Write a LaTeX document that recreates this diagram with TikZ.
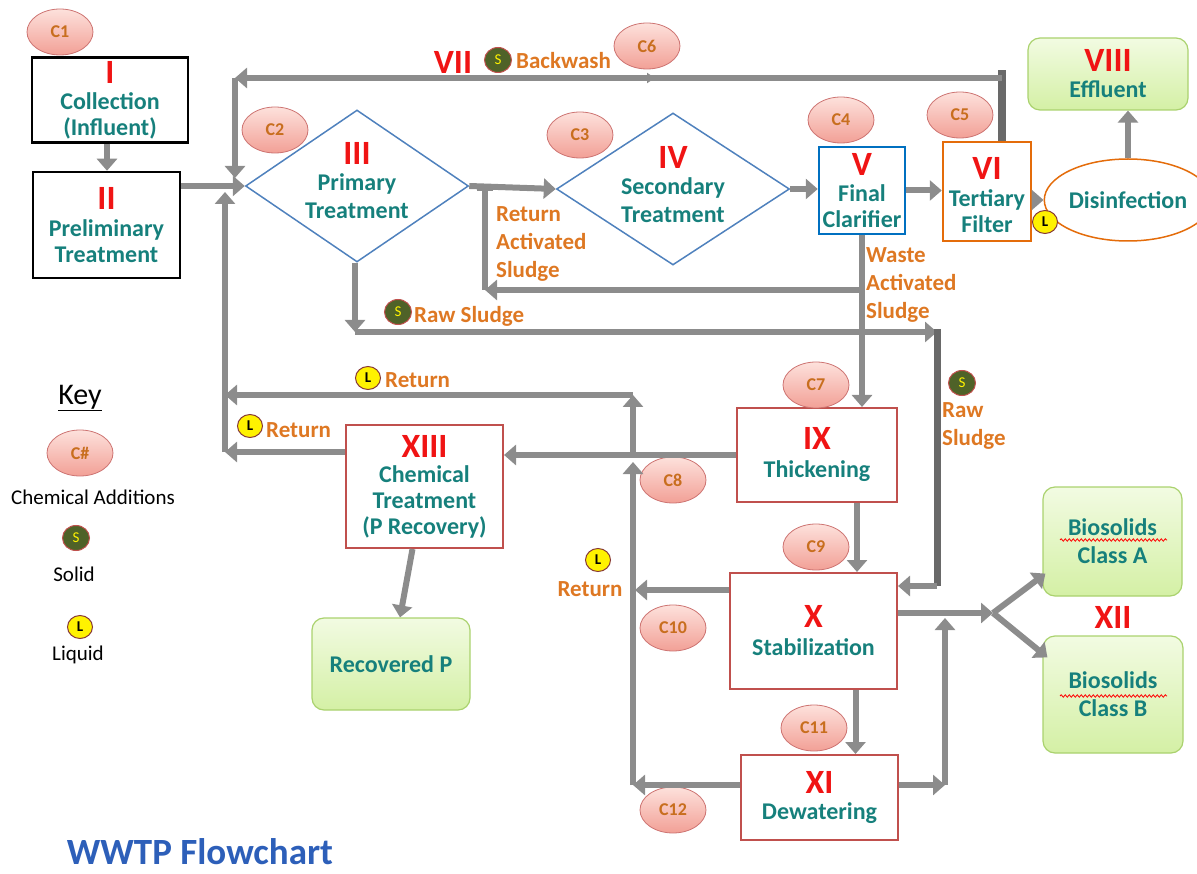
\documentclass[tikz,border=0pt]{standalone}
\usepackage{fontspec}
\setmainfont{Carlito}
\usetikzlibrary{shapes.geometric,arrows.meta,decorations.pathmorphing}
\definecolor{tealtx}{RGB}{22,128,124}
\definecolor{numred}{RGB}{240,20,20}
\definecolor{lblor}{RGB}{222,120,35}
\definecolor{cnum}{RGB}{200,110,30}
\definecolor{pipeg}{RGB}{140,140,140}
\definecolor{pipedk}{RGB}{105,105,105}
\definecolor{diablue}{RGB}{79,129,189}
\definecolor{boxred}{RGB}{192,80,77}
\definecolor{boxor}{RGB}{228,108,10}
\definecolor{clarblue}{RGB}{0,112,192}
\definecolor{grnlt}{RGB}{242,251,226}
\definecolor{grndk}{RGB}{212,240,165}
\definecolor{grnbd}{RGB}{170,210,110}
\definecolor{pinklt}{RGB}{253,225,220}
\definecolor{pinkdk}{RGB}{242,160,150}
\definecolor{olive}{RGB}{79,98,40}
\definecolor{titleblue}{RGB}{45,95,185}
\newcommand\rnum[1]{{\color{numred}\fontsize{34}{34}\selectfont #1}}
\tikzset{
  every node/.style={font=\bfseries\fontsize{24}{28}\selectfont, text=tealtx, align=center, inner sep=0pt},
  blackbox/.style={draw=black, line width=2.5pt},
  procbox/.style={draw=boxred, line width=2pt},
  dia/.style={diamond, draw=diablue, line width=1.5pt},
  greenbox/.style={draw=grnbd, line width=1.2pt, rounded corners=12pt, top color=grnlt, bottom color=grndk},
  cadd/.style={ellipse, draw=boxred!80, line width=0.8pt, top color=pinklt, bottom color=pinkdk,
               minimum width=66pt, minimum height=46pt, text=cnum, font=\bfseries\fontsize{18}{20}\selectfont},
  solidc/.style={ellipse, draw=boxred, line width=1pt, fill=olive, text=yellow,
               minimum width=27pt, minimum height=25pt, font=\fontsize{15}{15}\selectfont},
  liqc/.style={ellipse, draw=boxred!70!black, line width=1pt, fill=yellow, text=black,
               minimum width=25pt, minimum height=23pt, font=\bfseries\fontsize{15}{15}\selectfont},
  lbl/.style={text=lblor, font=\bfseries\fontsize{23}{28}\selectfont, align=left},
  keytx/.style={text=black, font=\fontsize{21}{22}\selectfont},
  pipe/.style={draw=pipeg, line width=6pt},
  arr/.style={pipe, -{Triangle[length=12pt,width=20pt]}},
  wavy/.style={draw=red, line width=0.8pt, decorate, decoration={snake, amplitude=1.2pt, segment length=4pt}}
}
\begin{document}
\begin{tikzpicture}[x=1pt,y=-1pt]
\useasboundingbox (0,0) rectangle (1197,874);

% ---------- process nodes ----------
\node[blackbox, minimum width=156, minimum height=85] (n1) at (110,100) {\rnum{I}\\[-2pt]Collection\\[-2pt](Influent)};
\node[blackbox, minimum width=147, minimum height=106] (n2) at (106.5,225) {\rnum{II}\\[-1pt]Preliminary\\[-2pt]Treatment};
\node[dia, minimum width=223, minimum height=152, label={[align=center, yshift=5pt]center:{\rnum{III}\\[-2pt]Primary\\Treatment}}] (n3) at (357,186) {};
\node[dia, minimum width=233, minimum height=152, label={[align=center, yshift=4pt]center:{\rnum{IV}\\[-2pt]Secondary\\Treatment}}] (n4) at (673,189) {};
\node[draw=clarblue, line width=2.5pt, minimum width=86, minimum height=87] (n5) at (862,190.5) {\rnum{V}\\[-2pt]Final\\[-2pt]Clarifier};
\node[draw=boxor, line width=2.5pt, minimum width=88, minimum height=99,
      label={[align=center, yshift=-4pt]center:{\rnum{VI}\\[-1pt]Tertiary\\[-2pt]Filter}}] (n6) at (987,191.5) {};
\node[ellipse, draw=boxor, line width=1.5pt, fill=white, minimum width=128, minimum height=82] (dis) at (1128,200) {Disinfection};
\node[greenbox, minimum width=160, minimum height=72] (eff) at (1108,74) {\rnum{VIII}\\[-2pt]Effluent};
\node[procbox, minimum width=160, minimum height=94] (n9) at (817,455) {\rnum{IX}\\[0pt]Thickening};
\node[procbox, minimum width=167, minimum height=116] (n10) at (813.5,631) {\rnum{X}\\[0pt]Stabilization};
\node[procbox, minimum width=157, minimum height=85] (n11) at (819.5,797.5) {\rnum{XI}\\[-2pt]Dewatering};
\node[procbox, minimum width=157, minimum height=123] (n13) at (424.5,486.5) {\rnum{XIII}\\[-3pt]Chemical\\[-2pt]Treatment\\[-2pt](P Recovery)};
\node[greenbox, minimum width=139, minimum height=109] (bA) at (1112.5,541.5) {Biosolids\\Class A};
\node[greenbox, minimum width=140, minimum height=117] (bB) at (1113,694.5) {Biosolids\\Class B};
\node[greenbox, minimum width=158, minimum height=92] (rp) at (391,664) {Recovered P};

\draw[wavy] (1060,540) -- (1167,540);
\draw[wavy] (1060,696) -- (1167,696);

% ---------- chemical additions ----------
\node[cadd] (c1) at (60,32) {C1};
\node[cadd] (c2) at (275,130) {C2};
\node[cadd] (c3) at (580,135) {C3};
\node[cadd] (c4) at (841,120) {C4};
\node[cadd] (c5) at (960,115) {C5};
\node[cadd] (c6) at (647,46) {C6};
\node[cadd] (c7) at (816,385) {C7};
\node[cadd] (c8) at (673,480) {C8};
\node[cadd] (c9) at (816,547) {C9};
\node[cadd] (c10) at (673,628) {C10};
\node[cadd] (c11) at (814,728) {C11};
\node[cadd] (c12) at (673,810) {C12};

% ---------- coordinates for pipe routing ----------
\coordinate (bwR) at (1002,78);
\coordinate (bwL) at (235,78);
\coordinate (bwM) at (655,78);
\coordinate (bwE) at (235,178);
\coordinate (rasR) at (862,290);
\coordinate (rasL) at (485,290);
\coordinate (rasT) at (485,190);
\coordinate (rs1) at (355,332);
\coordinate (rs2) at (937,332);
\coordinate (rs3) at (937,586);
\coordinate (rt1) at (633,455);
\coordinate (rt2) at (633,395);
\coordinate (rt3) at (225,395);
\coordinate (ret2) at (225,452);
\coordinate (retTop) at (225,192);
\coordinate (vb) at (633,785);
\coordinate (vtop) at (633,462);
\coordinate (vmid) at (635,590);
\coordinate (fork) at (993,613);
\coordinate (rr) at (945,785);
\coordinate (rrt) at (945,618);

% ---------- main line ----------
\draw[arr] ([xshift=-3pt]n1.south) -- ([xshift=-3pt]n1.south |- n2.north);
\draw[arr] (n2.east |- n3.west) -- (n3.west);
\draw[arr] (n3.east) -- (n4.west);
\draw[arr] (n4.east) -- (n5.west |- n4.east);
\draw[arr] (n5.east) -- (n6.west |- n5.east);
\draw[arr] (n6.east |- dis.west) -- (dis.west);
\draw[arr] (dis.north) -- (dis.north |- eff.south);

% ---------- backwash ----------
\draw[draw=pipedk, line width=8pt] (n6.north -| bwR) -- ([yshift=4pt]bwR) -- ([xshift=-4pt,yshift=4pt]bwR);
\draw[arr] (bwR) -- (bwL);
\draw[pipe, line width=2pt, -{Triangle[length=8pt,width=10pt]}] ([xshift=-30pt]bwM) -- (bwM);
\draw[arr] (bwL) -- (bwE);

% ---------- return activated sludge / waste activated sludge ----------
\draw[arr] (n5.south) -- (n5.south |- n9.north);
\draw[arr] (rasR) -- (rasL);
\draw[pipe] (rasL) -- (rasT);
\draw[pipeg, line width=3pt] ([xshift=-8pt]rasT) -- ([xshift=8pt]rasT);

% ---------- raw sludge ----------
\draw[arr] (n3.south -| rs1) -- (rs1);
\draw[arr] (rs1) -- (rs2);
\draw[draw=pipedk, line width=7pt] ([yshift=3pt]rs2) -- (rs3);
\draw[arr] (rs3) -- (n10.east |- rs3);

% ---------- returns ----------
\draw[arr] (n9.west) -- (n9.west -| n13.east);
\draw[arr] (rt1) -- (rt2);
\draw[arr] (rt2) -- (rt3);
\draw[arr] (n13.west |- ret2) -- (ret2);
\draw[arr] (ret2) -- (retTop);
\draw[arr] (vb) -- (vtop);
\draw[arr] (n10.west |- vmid) -- (vmid);
\draw[arr] (n11.west |- vb) -- (vb);

% ---------- solids train ----------
\draw[arr] ([xshift=40pt]n9.south) -- ([xshift=40pt]n9.south |- n10.north);
\draw[arr] ([xshift=42pt]n10.south) -- ([xshift=42pt]n10.south |- n11.north);
\draw[arr] (n10.east |- fork) -- (fork);
\draw[arr] (fork) -- ([xshift=3pt,yshift=23pt]bA.south west);
\draw[arr] (fork) -- ([xshift=5pt,yshift=-22pt]bB.north west);
\draw[arr] (n11.east |- rr) -- (rr);
\draw[arr] (rr) -- (rrt);
\draw[arr] ([xshift=-12pt]n13.south) -- ([xshift=9pt]rp.north);

% ---------- labels ----------
\node (vii) at (453,62) {\rnum{VII}};
\node[solidc] (s1) at (498,60) {S};
\node[lbl, anchor=west] (bw) at (516,61) {Backwash};
\node[lbl, anchor=west] (rasl) at (496,244) {Return\\Activated\\Sludge};
\node[lbl, anchor=west] (wasl) at (866,285) {Waste\\Activated\\Sludge};
\node[solidc] (s2) at (398,312) {S};
\node[lbl, anchor=west] (rsl) at (414,316) {Raw Sludge};
\node[solidc] (s3) at (962,383) {S};
\node[lbl, anchor=west] (rsl2) at (942,426) {Raw\\Sludge};
\node[liqc] (l1) at (1045,222) {L};
\node[liqc] (l2) at (368,378) {L};
\node[lbl, anchor=west] (ret1) at (385,380) {Return};
\node[liqc] (l3) at (250,426) {L};
\node[lbl, anchor=west] (retb) at (266,430) {Return};
\node[liqc] (l4) at (598,560) {L};
\node[lbl] (retc) at (590,589) {Return};
\node (xii) at (1113,617) {\rnum{XII}};

% ---------- key ----------
\node[text=black, font=\fontsize{30}{32}\selectfont] (key) at (80,398) {\underline{Key}};
\node[cadd] (ck) at (80,453) {C\#};
\node[keytx] (ckt) at (93,497) {Chemical Additions};
\node[solidc] (sk) at (76,538) {S};
\node[keytx] (skt) at (74,574) {Solid};
\node[liqc] (lk) at (80,627) {L};
\node[keytx] (lkt) at (78,655) {Liquid};

\node[text=titleblue, font=\bfseries\fontsize{37}{38}\selectfont] (title) at (200,852) {WWTP Flowchart};
\end{tikzpicture}
\end{document}
